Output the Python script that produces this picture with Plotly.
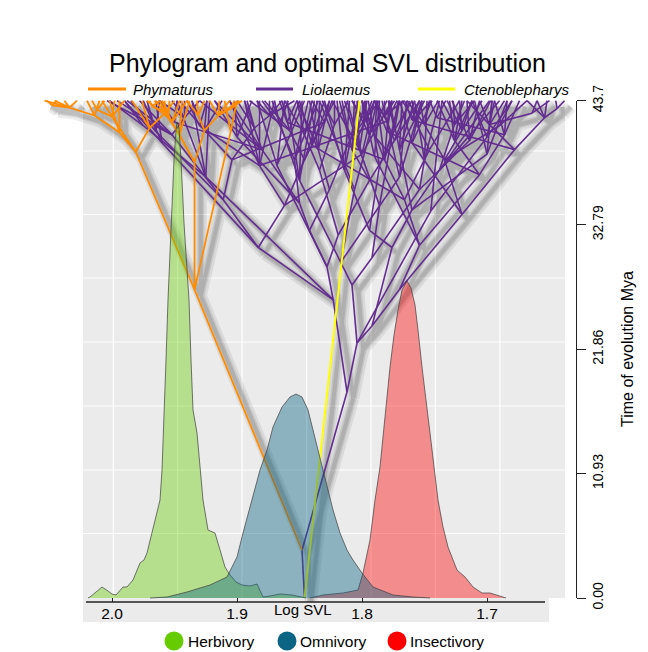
import plotly.graph_objects as go

# ---------------- data ----------------
# optimal SVL densities (x = log SVL, y = density)
herb_x = [2.0192, 2.0176, 2.0128, 2.008, 2.0032, 2.0, 1.9968, 1.9944, 1.9912, 1.988, 1.9832, 1.9776, 1.9744,
          1.972, 1.968, 1.964, 1.9616, 1.96, 1.9584, 1.9568, 1.9552, 1.9536, 1.952, 1.9504, 1.9488, 1.948,
          1.9464, 1.9448, 1.9424, 1.94, 1.9384, 1.9368, 1.9352, 1.932, 1.9296, 1.9272, 1.9232, 1.9176, 1.9136,
          1.9096, 1.9056, 1.9008, 1.896, 1.8896, 1.884, 1.8816, 1.8792, 1.8736, 1.8656, 1.856, 1.8496, 1.8448]
herb_y = [0, 0.1, 0.6, 1.1, 0.7, 0.4, 0.3, 0.6, 1.1, 1.1, 1.8, 3.5, 3.8,
          4.5, 6.5, 8.5, 9.8, 12.8, 17.8, 23.8, 29.8, 34.8, 39.8, 43.8, 46.8, 47.6,
          47.0, 43.8, 37.5, 32.8, 29.8, 23.8, 18.8, 16.5, 13.3, 9.8, 6.8, 6.5, 4.8,
          3.1, 2.3, 1.6, 1.3, 1.2, 1.4, 0.8, 0.1, 0.2, 0.4, 0.3, 0.1, 0]

omni_x = [1.9696, 1.956, 1.94, 1.9216, 1.908, 1.9, 1.8952, 1.888, 1.8816, 1.876, 1.8712, 1.864, 1.8576, 1.8528,
          1.848, 1.8432, 1.8392, 1.8352, 1.828, 1.8232, 1.8176, 1.812, 1.8072, 1.8, 1.7912, 1.7752, 1.7592, 1.7456]
omni_y = [0, 0.1, 0.6, 1.3, 2.1, 4.1, 6.5, 9.8, 12.8, 14.8, 17.1, 19.1, 20.1, 20.4,
          20.1, 18.8, 16.8, 14.8, 11.1, 8.8, 6.5, 4.8, 3.8, 2.5, 1.1, 0.3, 0.1, 0]

insect_x = [1.8416, 1.8312, 1.8152, 1.8032, 1.7992, 1.7936, 1.7896, 1.7856, 1.7816, 1.7776, 1.7744, 1.7712, 1.768,
            1.764, 1.7608, 1.7576, 1.7552, 1.752, 1.7456, 1.7392, 1.7352, 1.7312, 1.724, 1.7176, 1.7112, 1.704,
            1.6976, 1.688, 1.6848]
insect_y = [0, 0.3, 0.5, 0.8, 2.5, 5.8, 9.8, 13.1, 18.1, 23.1, 26.3, 28.8, 30.8,
            31.7, 31.0, 29.3, 26.8, 23.1, 16.5, 9.8, 7.1, 5.1, 2.8, 2.1, 1.1, 0.5,
            0.5, 0.1, 0]

# phylogram: (node, parent, log SVL, time Mya)
TIP_TIME = 43.7
base_nodes = [("R", None, 1.846, 0.0), ("A", "R", 1.848, 4.2)]
cteno_tip = 1.802

phym_nodes = [
    ("O1", "A", 1.934, 27.1), ("O2", "O1", 1.981, 39.2), ("O3", "O1", 1.934, 38.3),
    ("O4", "O2", 1.994, 40.9), ("O5", "O2", 1.970, 41.3), ("O6", "O4", 2.014, 42.4),
    ("O7", "O6", 2.034, 43.1), ("O8", "O5", 1.957, 42.7), ("O9", "O3", 1.946, 40.7),
    ("O10", "O3", 1.926, 41.1), ("O11", "O9", 1.955, 42.2), ("O12", "O10", 1.931, 42.4),
    ("O13", "O10", 1.915, 42.4), ("O14", "O3", 1.952, 41.8), ("O15", "O2", 2.000, 42.3),
    ("O16", "O1", 1.905, 41.0), ("O17", "O7", 2.048, 43.3), ("O18", "O15", 2.012, 42.9),
    ("O19", "O13", 1.905, 43.0), ("O20", "O8", 1.968, 43.2),
]
phym_tips = {
    "O7": [2.054, 2.046, 2.038, 2.028], "O6": [2.020, 2.010], "O4": [2.002, 1.994],
    "O5": [1.984, 1.976], "O8": [1.966, 1.958, 1.950], "O11": [1.972, 1.962, 1.954],
    "O9": [1.944, 1.938], "O12": [1.940, 1.932, 1.926], "O13": [1.922, 1.914, 1.906, 1.898],
    "O14": [1.960, 1.946, 1.940], "O15": [2.008, 1.998, 1.990], "O16": [1.910, 1.900],
    "O17": [2.052, 2.044], "O18": [2.016, 2.006], "O19": [1.902, 1.896], "O20": [1.970, 1.962],
}

lio_nodes = [
    ("L1", "A", 1.812, 18.1), ("L2", "L1", 1.804, 22.4), ("L3", "L1", 1.823, 26.2),
    ("L8", "L3", 1.883, 30.8), ("L9", "L3", 1.828, 29.1), ("L12", "L8", 1.911, 35.0),
    ("L13", "L8", 1.862, 34.5), ("L20", "L12", 1.952, 40.7), ("L21", "L12", 1.904, 38.5),
    ("L40", "L20", 1.942, 42.2), ("L41", "L21", 1.926, 41.1), ("L42", "L21", 1.886, 41.3),
    ("L43", "L42", 1.874, 42.4), ("L44", "L13", 1.882, 38.0), ("L45", "L13", 1.846, 38.5),
    ("L46", "L45", 1.858, 41.1), ("L14", "L9", 1.842, 32.3), ("L15", "L9", 1.819, 31.9),
    ("L22", "L14", 1.850, 34.7), ("L23", "L14", 1.826, 35.9), ("L47", "L22", 1.880, 39.4),
    ("L48", "L22", 1.854, 38.5), ("L49", "L48", 1.866, 41.6), ("L50", "L23", 1.835, 39.4),
    ("L51", "L23", 1.810, 40.2), ("L52", "L51", 1.798, 42.0), ("L24", "L15", 1.834, 37.6),
    ("L25", "L15", 1.794, 36.7), ("L53", "L24", 1.846, 40.7), ("L54", "L24", 1.822, 41.6),
    ("L55", "L25", 1.808, 39.4), ("L56", "L25", 1.774, 40.2), ("L57", "L56", 1.782, 42.4),
    ("L4", "L2", 1.792, 23.9), ("L5", "L2", 1.808, 27.5), ("L6", "L4", 1.770, 27.1),
    ("L7", "L4", 1.776, 30.8), ("L10", "L6", 1.720, 33.7), ("L11", "L6", 1.754, 31.0),
    ("L26", "L10", 1.678, 39.4), ("L27", "L10", 1.734, 38.5), ("L58", "L26", 1.654, 42.2),
    ("L60", "L26", 1.698, 41.6), ("L61", "L27", 1.720, 41.1), ("L62", "L27", 1.750, 41.6),
    ("L28", "L11", 1.706, 37.2), ("L29", "L11", 1.766, 35.0), ("L63", "L28", 1.686, 40.7),
    ("L64", "L28", 1.726, 40.2), ("L65", "L29", 1.782, 38.5), ("L66", "L29", 1.746, 39.4),
    ("L67", "L66", 1.758, 42.0), ("L30", "L7", 1.794, 32.3), ("L31", "L7", 1.760, 34.1),
    ("L68", "L30", 1.814, 37.6), ("L69", "L30", 1.786, 38.0), ("L70", "L69", 1.774, 41.1),
    ("L71", "L31", 1.738, 37.6), ("L72", "L71", 1.726, 41.6), ("L73", "L31", 1.770, 39.4),
    ("L16", "L5", 1.792, 29.9), ("L17", "L5", 1.817, 29.5), ("L74", "L16", 1.754, 35.9),
    ("L75", "L16", 1.786, 34.5), ("L76", "L74", 1.714, 40.2), ("L77", "L74", 1.750, 38.5),
    ("L78", "L75", 1.802, 39.4), ("L79", "L17", 1.850, 36.7), ("L80", "L17", 1.806, 35.9),
    ("L81", "L80", 1.794, 40.7),
    ("L90", "L13", 1.800, 39.0), ("L91", "L29", 1.840, 39.8), ("L92", "L11", 1.790, 38.8),
    ("L93", "L22", 1.900, 40.5), ("L94", "L10", 1.760, 40.0), ("L95", "L27", 1.690, 41.5),
    ("L96", "L12", 1.965, 41.0), ("L97", "L3", 1.925, 37.0), ("L98", "L2", 1.745, 34.0),
    ("L99", "L98", 1.700, 40.5), ("L100", "L9", 1.868, 38.0), ("L101", "L17", 1.770, 37.0),
    ("L102", "L74", 1.790, 40.6), ("L103", "L31", 1.700, 39.0), ("L104", "L44", 1.930, 41.5),
    ("L105", "L47", 1.950, 41.8), ("L106", "L58", 1.644, 43.0),
    ("L107", "L21", 1.830, 41.8), ("L108", "L44", 1.780, 41.9), ("L109", "L26", 1.760, 42.0),
    ("L110", "L28", 1.780, 41.0), ("L111", "L65", 1.860, 41.8), ("L112", "L8", 1.960, 40.0),
    ("L113", "L97", 1.975, 41.5), ("L114", "L63", 1.740, 42.2), ("L115", "L60", 1.664, 42.6),
]
lio_tips = {
    "L20": [2.004, 1.996, 1.988, 1.978], "L40": [1.962, 1.952, 1.942, 1.930],
    "L41": [1.946, 1.936, 1.924, 1.912], "L42": [1.900, 1.892], "L43": [1.884, 1.874, 1.864, 1.854],
    "L44": [1.906, 1.894, 1.882, 1.870], "L45": [1.822, 1.830], "L46": [1.890, 1.878, 1.864, 1.850],
    "L47": [1.930, 1.918, 1.906, 1.894], "L48": [1.835, 1.843], "L49": [1.880, 1.870, 1.859],
    "L50": [1.852, 1.842, 1.834, 1.826], "L51": [1.818], "L52": [1.808, 1.800, 1.792, 1.786],
    "L53": [1.862, 1.852, 1.840], "L54": [1.832, 1.822, 1.811], "L55": [1.816, 1.806, 1.797, 1.790],
    "L56": [1.754, 1.762], "L57": [1.790, 1.782, 1.774, 1.766], "L58": [1.668, 1.660, 1.652],
    "L60": [1.716, 1.706, 1.696, 1.686], "L61": [1.732, 1.722, 1.712, 1.704],
    "L62": [1.764, 1.754, 1.746, 1.739], "L63": [1.694, 1.684, 1.674],
    "L64": [1.740, 1.730, 1.720, 1.712], "L65": [1.800, 1.788, 1.778, 1.770], "L66": [1.722],
    "L67": [1.768, 1.760, 1.752, 1.745], "L68": [1.830, 1.820, 1.810, 1.803], "L69": [1.795],
    "L70": [1.779, 1.770, 1.760], "L71": [1.690, 1.698], "L72": [1.736, 1.727, 1.718, 1.710],
    "L73": [1.778, 1.768, 1.758, 1.750], "L75": [1.771], "L76": [1.728, 1.716, 1.706, 1.697],
    "L77": [1.758, 1.748, 1.738], "L78": [1.824, 1.814, 1.804, 1.796],
    "L79": [1.872, 1.860, 1.848, 1.838], "L80": [1.834], "L81": [1.808, 1.798, 1.788, 1.780],
    "L90": [1.812, 1.790, 1.776], "L91": [1.850, 1.836, 1.826], "L92": [1.800, 1.786],
    "L93": [1.918, 1.902, 1.888], "L94": [1.770, 1.752, 1.744], "L95": [1.680, 1.668],
    "L96": [1.985, 1.972, 1.962], "L97": [1.948, 1.936, 1.922], "L98": [1.736],
    "L99": [1.712, 1.694, 1.680], "L100": [1.884, 1.862, 1.846], "L101": [1.784, 1.764, 1.752],
    "L102": [1.800, 1.788], "L103": [1.710, 1.696, 1.684], "L104": [1.940, 1.924],
    "L105": [1.962, 1.948], "L106": [1.645, 1.638],
    "L107": [1.840, 1.824], "L108": [1.790, 1.772], "L109": [1.766, 1.754],
    "L110": [1.790, 1.776], "L111": [1.866, 1.852], "L112": [1.990, 1.975, 1.965],
    "L113": [2.002, 1.990], "L114": [1.746, 1.733], "L115": [1.660, 1.650],
}

time_ticks = [0.0, 10.93, 21.86, 32.79, 43.7]
time_labels = ["0.00", "10.93", "21.86", "32.79", "43.7"]
svl_ticks = [2.0, 1.9, 1.8, 1.7]
svl_labels = ["2.0", "1.9", "1.8", "1.7"]
clade_names = ["Phymaturus", "Liolaemus", "Ctenoblepharys"]
diet_names = ["Herbivory", "Omnivory", "Insectivory"]

# ---------------- styling ----------------
ORANGE, PURPLE, YELLOW = "#ff8c00", "#632c90", "#ffff00"
DIET_COL = ["#66cc00", "#0b6484", "#ff0000"]
DIET_FILL = ["rgba(102,204,0,0.4)", "rgba(11,100,132,0.42)", "rgba(255,0,0,0.4)"]
FONT = "Liberation Sans, Arial, sans-serif"
PANEL = "#ebebeb"

W, H = 648, 652
ML, MR, MT, MB = 40, 72, 92, 50
PW, PH = W - ML - MR, H - MT - MB


def px(x):
    return (x - ML) / PW


def py(y):
    return (H - MB - y) / PH


all_pos = {n: (v, t) for n, _, v, t in base_nodes + phym_nodes + lio_nodes}


def segments(nodes, tips):
    xs, ys = [], []
    for n, p, v, t in nodes:
        if p is None:
            continue
        pv, pt = all_pos[p]
        xs += [pv, v, None]
        ys += [pt, t, None]
    for p, vals in tips.items():
        pv, pt = all_pos[p]
        for v in vals:
            xs += [pv, v, None]
            ys += [pt, TIP_TIME, None]
    return xs, ys


lio_x, lio_y = segments(base_nodes + lio_nodes, lio_tips)
phy_x, phy_y = segments(phym_nodes, phym_tips)
rv, rt = all_pos["R"]
cte_x, cte_y = [rv, cteno_tip], [rt, TIP_TIME]

fig = go.Figure()

# densities: green, red, then blue on top
for xs, ys, i in [(herb_x, herb_y, 0), (insect_x, insect_y, 2), (omni_x, omni_y, 1)]:
    fig.add_trace(go.Scatter(x=xs, y=ys, yaxis="y3", mode="lines", fill="tozeroy",
                             fillcolor=DIET_FILL[i], line=dict(color="#3c3c3c", width=0.7),
                             hoverinfo="skip", showlegend=False))

# soft drop shadow of the tree (group opacity, so overlaps do not darken)
sh_x = [None if v is None else v - 0.005 for v in lio_x + [None] + phy_x + [None] + cte_x]
sh_y = [None if v is None else v - 0.55 for v in lio_y + [None] + phy_y + [None] + cte_y]
for w, op in [(12, 0.07), (7, 0.09), (4, 0.10)]:
    fig.add_trace(go.Scatter(x=sh_x, y=sh_y, mode="lines", opacity=op,
                             line=dict(color="#000000", width=w),
                             hoverinfo="skip", showlegend=False))

fig.add_trace(go.Scatter(x=lio_x, y=lio_y, mode="lines", line=dict(color=PURPLE, width=1.6),
                         hoverinfo="skip", showlegend=False))
fig.add_trace(go.Scatter(x=phy_x, y=phy_y, mode="lines", line=dict(color=ORANGE, width=1.8),
                         hoverinfo="skip", showlegend=False))
fig.add_trace(go.Scatter(x=cte_x, y=cte_y, mode="lines", line=dict(color=YELLOW, width=2),
                         hoverinfo="skip", showlegend=False))
# anchor trace for the time axis
fig.add_trace(go.Scatter(x=[1.8], y=[0], yaxis="y2", mode="markers", marker=dict(opacity=0),
                         hoverinfo="skip", showlegend=False))

shapes = []
# panel + lower strip
shapes.append(dict(type="rect", xref="paper", yref="paper", x0=px(83), x1=px(565), y0=py(598), y1=py(101),
                   fillcolor=PANEL, line=dict(width=0), layer="below"))
shapes.append(dict(type="rect", xref="paper", yref="paper", x0=px(83), x1=px(549), y0=py(622), y1=py(598),
                   fillcolor=PANEL, line=dict(width=0), layer="below"))
for gx in [113.3, 177.7, 242.1, 306.6, 371.0, 435.4, 499.9]:
    shapes.append(dict(type="line", xref="paper", yref="paper", x0=px(gx), x1=px(gx), y0=py(598), y1=py(101),
                       line=dict(color="white", width=1.2), layer="below"))
for gy in [151, 214.5, 278, 342, 406, 470, 533.5]:
    shapes.append(dict(type="line", xref="paper", yref="paper", x0=px(83), x1=px(565), y0=py(gy), y1=py(gy),
                       line=dict(color="white", width=1.2), layer="below"))
# bottom axis line
shapes.append(dict(type="line", xref="paper", yref="paper", x0=px(86), x1=px(545), y0=py(602), y1=py(602),
                   line=dict(color="#222222", width=1.5)))

annotations = [
    dict(text="Phylogram and optimal SVL distribution", x=px(327.5), y=py(63), xref="paper", yref="paper",
         showarrow=False, font=dict(family=FONT, size=25, color="black"), xanchor="center", yanchor="middle"),
    dict(text="Log SVL", x=px(303), y=py(609), xref="paper", yref="paper", showarrow=False,
         font=dict(family=FONT, size=15, color="black"), xanchor="center", yanchor="middle"),
    dict(text="Time of evolution Mya", x=px(627), y=py(349), xref="paper", yref="paper", showarrow=False,
         textangle=-90, font=dict(family=FONT, size=16, color="black"), xanchor="center", yanchor="middle"),
]

# top legend (clades)
for (lx0, lx1, tx), col, name in zip([(88, 126, 131), (256, 293, 300), (418, 455, 462)],
                                     [ORANGE, PURPLE, YELLOW], clade_names):
    shapes.append(dict(type="line", xref="paper", yref="paper", x0=px(lx0), x1=px(lx1), y0=py(89), y1=py(89),
                       line=dict(color=col, width=3)))
    annotations.append(dict(text=f"<i>{name}</i>", x=px(tx), y=py(89), xref="paper", yref="paper",
                            showarrow=False, xanchor="left", yanchor="middle",
                            font=dict(family=FONT, size=15, color="black")))

# bottom legend (diet)
R = 9.5
for (cx, tx), col, name in zip([(174, 186), (287, 298), (397, 408)], DIET_COL, diet_names):
    shapes.append(dict(type="circle", xref="paper", yref="paper", x0=px(cx - R), x1=px(cx + R),
                       y0=py(641 + R), y1=py(641 - R), fillcolor=col, line=dict(width=0)))
    annotations.append(dict(text=name, x=px(tx), y=py(641), xref="paper", yref="paper", showarrow=False,
                            xanchor="left", yanchor="middle", font=dict(family=FONT, size=15.5, color="black")))

fig.update_layout(
    width=W, height=H, margin=dict(l=ML, r=MR, t=MT, b=MB),
    paper_bgcolor="white", plot_bgcolor="rgba(0,0,0,0)",
    font=dict(family=FONT, color="black"),
    xaxis=dict(range=[2.0576, 1.6288], domain=[0, 1], tickvals=svl_ticks, ticktext=svl_labels,
               ticks="inside", ticklen=4, tickcolor="#222222", tickwidth=1.2, showgrid=False,
               zeroline=False, showline=False, tickfont=dict(size=15.5, family=FONT, color="black")),
    yaxis=dict(range=[-0.3515, 44.464], domain=[0, 1], visible=False),
    yaxis3=dict(range=[-0.4, 50.6], overlaying="y", visible=False),
    yaxis2=dict(range=[0, 43.7], domain=[py(598), py(100.7)], anchor="x", side="right",
                tickvals=time_ticks, ticktext=time_labels, ticks="outside", ticklen=9, tickwidth=1.3,
                tickcolor="#222222", showline=True, linecolor="#222222", linewidth=1.3, showgrid=False,
                zeroline=False, tickangle=-90, tickfont=dict(size=14, family=FONT, color="black")),
    shapes=shapes, annotations=annotations, showlegend=False,
)

fig.write_html("out.html", config={"displayModeBar": False},
               post_script="document.body.style.margin='0px';")
